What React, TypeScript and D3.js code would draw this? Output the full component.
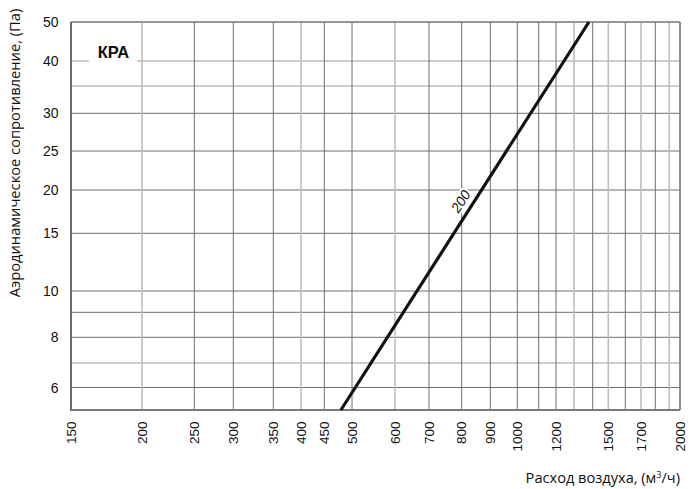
import React from "react";
import * as d3 from "d3";

// X axis (air flow, m³/h) — tick values and their calibrated positions on the nomogram
const xTicks = [150, 200, 250, 300, 350, 400, 450, 500, 600, 700, 800, 900, 1000, 1200, 1500, 1700, 2000];
const xGrid = [150, 200, 250, 300, 350, 400, 450, 500, 600, 700, 800, 900, 1000, 1100, 1200, 1300, 1400, 1500, 1600, 1700, 1800, 1900, 2000];
const xGridLight = [200, 400, 600, 1300, 1500, 1700, 1900];
// Y axis (pressure loss, Pa)
const yTicks = [6, 8, 10, 15, 20, 25, 30, 40, 50];
const yGrid = [5, 6, 7, 8, 9, 10, 15, 20, 25, 30, 35, 40, 50];
const yGridLight = [7, 35, 40];

// Curve "200"
const curveQ = [480, 1380];
const curveP = [5, 50];
const curveLabel = "200";
const chartTitle = "КРА";

// Non-uniform nomogram scales (piecewise calibration)
const xRange = [71, 142, 194.3, 233.3, 273.3, 301, 324.3, 352, 395, 429, 461.7, 490.3, 517.3, 538.7, 556, 574, 592.7, 608.3, 625.3, 641, 655.3, 669.3, 680];
const yRange = [410, 387.5, 363, 337.3, 312.3, 291, 233.3, 190, 151, 113.3, 86, 61, 22];

export default function App() {
  const W = 700, H = 489;
  const x = d3.scaleLinear().domain(xGrid).range(xRange);
  const y = d3.scaleLinear().domain(yGrid).range(yRange);
  const x0 = x(150), x1 = x(2000), yTop = y(50), yBot = y(5);

  const pts = curveQ.map((q, i) => [x(q), y(curveP[i])] as [number, number]);
  const line = d3.line()(pts) || "";

  // label position along curve, offset to its upper-left side
  const [ax, ay] = pts[0];
  const [bx, by] = pts[1];
  const len = Math.hypot(bx - ax, by - ay);
  const ux = (bx - ax) / len, uy = (by - ay) / len;
  const t = 0.522;
  const fx = ax + (bx - ax) * t, fy = ay + (by - ay) * t;
  const off = 11.5;
  const lx = fx + uy * off, ly = fy - ux * off;
  const angle = (Math.atan2(by - ay, bx - ax) * 180) / Math.PI;

  const fontA = "'Liberation Sans', Arial, sans-serif";
  const fontB = "'Open Sans', sans-serif";

  return (
    <svg width={W} height={H} style={{ position: "absolute", left: 0, top: 0, background: "#fff" }}>
      <rect x={0} y={0} width={W} height={H} fill="#fff" />
      {/* horizontal grid */}
      {yGrid.slice(1).map((v) => {
        const light = yGridLight.includes(v);
        return (
          <line key={"h" + v} x1={x0} x2={x1} y1={y(v)} y2={y(v)}
            stroke={light ? "#bdbdbd" : "#6e6e6e"} strokeWidth={light ? 1.6 : 1} />
        );
      })}
      {/* vertical grid */}
      {xGrid.slice(1).map((v) => {
        const light = xGridLight.includes(v);
        return (
          <line key={"v" + v} x1={x(v)} x2={x(v)} y1={yTop} y2={yBot}
            stroke={light ? "#bdbdbd" : "#6e6e6e"} strokeWidth={light ? 1.6 : 1} />
        );
      })}
      {/* frame */}
      <line x1={x0} x2={x1} y1={yTop} y2={yTop} stroke="#777" strokeWidth={1} />
      <line x1={x1} x2={x1} y1={yTop} y2={yBot} stroke="#777" strokeWidth={1.2} />
      <line x1={x0} x2={x0} y1={yTop} y2={yBot + 1} stroke="#6a6a6a" strokeWidth={2} />
      <line x1={x0} x2={x1} y1={yBot} y2={yBot} stroke="#7a7a7a" strokeWidth={2} />

      {/* title box */}
      <rect x={89} y={y(40) - 9} width={48} height={18} fill="#fff" />
      <text x={113.5} y={58} textAnchor="middle" fontFamily={fontA} fontWeight="bold" fontSize={16.5} fill="#111">
        {chartTitle}
      </text>

      {/* curve */}
      <path d={line} fill="none" stroke="#111" strokeWidth={3.2} />
      <text x={lx} y={ly} transform={`rotate(${angle} ${lx} ${ly})`} textAnchor="middle" dominantBaseline="central"
        fontFamily={fontA} fontStyle="italic" fontSize={14} fill="#111" stroke="#fff" strokeWidth={4} paintOrder="stroke">
        {curveLabel}
      </text>

      {/* y ticks */}
      {yTicks.map((v) => (
        <text key={"yt" + v} x={58.5} y={y(v)} textAnchor="end" dominantBaseline="central"
          fontFamily={fontA} fontSize={14} fill="#111">{v}</text>
      ))}
      {/* x ticks */}
      {xTicks.map((v) => (
        <text key={"xt" + v} x={0} y={0} transform={`translate(${x(v)},${421.5}) rotate(-90)`}
          textAnchor="end" dominantBaseline="central" fontFamily={fontA} fontSize={13.5} fill="#111">{v}</text>
      ))}

      {/* axis titles */}
      <text x={0} y={0} transform={`translate(13.5,153) rotate(-90)`} textAnchor="middle" dominantBaseline="central"
        fontFamily={fontB} fontSize={14.7} fill="#111">Аэродинамическое сопротивление, (Па)</text>
      <text x={680} y={483} textAnchor="end" fontFamily={fontB} fontSize={14.6} fill="#111">
        Расход воздуха, (м<tspan dy={-5} fontSize={9}>3</tspan><tspan dy={5}>/ч)</tspan>
      </text>
    </svg>
  );
}
